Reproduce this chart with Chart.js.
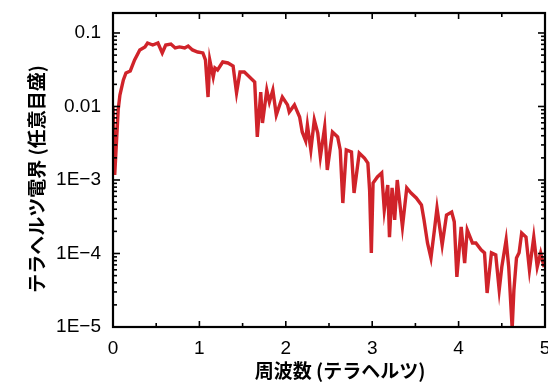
<!DOCTYPE html>
<html><head><meta charset="utf-8">
<script src="https://cdn.jsdelivr.net/npm/chart.js@4.4.1/dist/chart.umd.min.js"></script>
<style>html,body{margin:0;padding:0;background:#fff;}</style>
</head><body>
<canvas id="c" width="548" height="383"></canvas>
<script>
// Frequency (THz)
const freqTHz = [
 0.00,0.02,0.06,0.08,0.12,0.15,0.20,0.25,0.31,0.37,
 0.40,0.46,0.52,0.57,0.61,0.67,0.72,0.77,0.83,0.87,
 0.92,0.98,1.04,1.07,1.10,1.12,1.16,1.18,1.21,1.27,
 1.33,1.39,1.43,1.47,1.52,1.58,1.64,1.67,1.71,1.73,
 1.78,1.81,1.85,1.89,1.96,2.02,2.04,2.10,2.16,2.19,
 2.23,2.25,2.29,2.33,2.37,2.40,2.45,2.48,2.54,2.60,
 2.63,2.66,2.70,2.76,2.79,2.85,2.91,2.95,2.97,2.99,
 3.01,3.06,3.11,3.14,3.18,3.20,3.23,3.26,3.29,3.35,
 3.40,3.45,3.51,3.57,3.60,3.64,3.68,3.72,3.75,3.81,
 3.86,3.92,3.95,3.98,4.03,4.07,4.10,4.16,4.20,4.26,
 4.30,4.33,4.38,4.43,4.47,4.50,4.55,4.58,4.62,4.64,
 4.67,4.70,4.73,4.78,4.82,4.87,4.91,4.95,4.99
];
// THz electric field (arbitrary units)
const fieldAmp = [
 0.0098,0.00117,0.0090,0.0143,0.023,0.0286,0.0304,0.043,0.0588,0.0646,
 0.0731,0.0687,0.0731,0.0535,0.0687,0.0709,0.0625,0.0646,0.0625,0.0665,
 0.0588,0.0551,0.0535,0.043,0.01345,0.043,0.0252,0.0334,0.0314,0.0403,
 0.0391,0.0356,0.0153,0.0294,0.0294,0.0252,0.0215,0.00385,0.0157,0.00597,
 0.0167,0.0115,0.0167,0.00765,0.01345,0.0105,0.0084,0.0105,0.0072,0.0045,
 0.0034,0.0056,0.00256,0.00655,0.00435,0.00206,0.00526,0.00137,0.0045,0.00385,
 0.00256,0.000486,0.00256,0.0024,0.000665,0.00233,0.00199,0.0017,0.00073,0.000102,
 0.00091,0.0011,0.00125,0.00039,0.000855,0.000167,0.00078,0.000286,0.0010,0.00023,
 0.00078,0.000665,0.00057,0.000457,0.000286,0.000139,0.000087,0.000209,0.000416,0.000131,
 0.000334,0.000367,0.00027,0.000048,0.00023,0.000074,0.000209,0.000139,0.000139,0.000112,
 0.000102,0.000029,0.000102,0.0000955,0.0000318,0.0000655,0.000153,0.0000655,0.0000095,0.0000318,
 0.000087,0.000102,0.00019,0.000167,0.0000597,0.000167,0.0000655,0.000102,0.0000655
];
const xTickValues = [0,1,2,3,4,5];
const xTickLabels = ['0','1','2','3','4','5'];
const yTickValues = [1e-5,1e-4,1e-3,1e-2,1e-1];
const yTickLabels = ['1E\u22125','1E\u22124','1E\u22123','0.01','0.1'];
const xTitle = '周波数 (テラヘルツ)';
const yTitle = 'テラヘルツ電界 (任意目盛)';

const points = freqTHz.map((f,i)=>({x:f,y:fieldAmp[i]}));
const tickFont = {family:'"Liberation Sans", Arial, sans-serif', size:19};

const frameTicks = {
  id:'frameTicks',
  afterDatasetsDraw(chart){
    const {ctx, chartArea:a, scales:{x,y}} = chart;
    ctx.save();
    ctx.strokeStyle='#000';
    ctx.lineWidth=1.6;
    const seg=(x1,y1,x2,y2)=>{ctx.beginPath();ctx.moveTo(x1,y1);ctx.lineTo(x2,y2);ctx.stroke();};
    for (let k=0;k<=10;k++){
      const v=k*0.5, px=x.getPixelForValue(v), len=(k%2===0)?6:4;
      seg(px,a.bottom,px,a.bottom-len); seg(px,a.top,px,a.top+len);
    }
    for (let d=-5; d<=-1; d++){
      for (let m=1;m<=9;m++){
        const v=m*Math.pow(10,d); if (v>y.max) break;
        const py=y.getPixelForValue(v), len=(m===1)?7:4;
        seg(a.left,py,a.left+len,py); seg(a.right,py,a.right-len,py);
      }
    }
    ctx.lineWidth=2.2;
    ctx.strokeRect(a.left,a.top,a.right-a.left,a.bottom-a.top);
    // axis titles
    ctx.fillStyle='#000';
    ctx.font='bold 19px "Noto Sans CJK JP", sans-serif';
    ctx.textAlign='center'; ctx.textBaseline='middle';
    ctx.fillText(xTitle, 340, 371);
    ctx.translate(37,179); ctx.rotate(-Math.PI/2);
    ctx.fillText(yTitle, 0, 0);
    ctx.restore();
  }
};

new Chart(document.getElementById('c'), {
  type:'line',
  data:{datasets:[{data:points, borderColor:'#d0232a', borderWidth:3.4, pointRadius:0, tension:0, fill:false}]},
  options:{
    responsive:false, animation:false, devicePixelRatio:1,
    layout:{padding:{left:0, top:13, right:3, bottom:0}},
    plugins:{legend:{display:false}, tooltip:{enabled:false}},
    scales:{
      x:{type:'linear', min:0, max:5,
        grid:{display:false, drawTicks:false}, border:{display:false},
        afterBuildTicks:s=>{s.ticks=xTickValues.map(v=>({value:v}));},
        afterFit:s=>{s.height=56; s.paddingLeft=0; s.paddingRight=0;},
        ticks:{color:'#000', font:tickFont, padding:10, autoSkip:false, maxRotation:0,
          callback:(v,i)=>xTickLabels[i]}},
      y:{type:'logarithmic', min:1e-5, max:0.187,
        grid:{display:false, drawTicks:false}, border:{display:false},
        afterBuildTicks:s=>{s.ticks=yTickValues.map(v=>({value:v}));},
        afterFit:s=>{s.width=113; s.paddingTop=0; s.paddingBottom=0;},
        ticks:{color:'#000', font:tickFont, padding:12, autoSkip:false,
          callback:(v,i)=>yTickLabels[i]}}
    }
  },
  plugins:[frameTicks]
});
</script>
</body></html>
